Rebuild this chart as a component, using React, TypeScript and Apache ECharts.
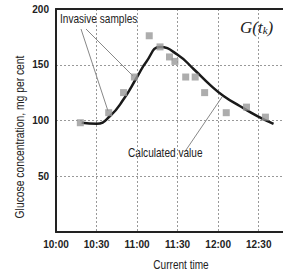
import React, { useEffect, useRef } from "react";
import * as echarts from "echarts";

// minutes after 10:00
const sampleTimes = [18, 39, 50, 58, 69, 77, 84, 88, 96, 103, 110, 126, 141, 155];
const sampleValues = [98, 107, 125, 139, 176, 166, 157, 153, 139, 139, 125, 107, 112, 103];

const curveTimes = [19, 30, 40, 50, 60, 67, 77, 90, 102, 114, 124, 136, 149, 161];
const curveValues = [98, 97, 104, 119, 139, 153, 166, 159, 146, 132, 122, 113, 104, 97];

const yTicks = [0, 50, 100, 150, 200];
const xTickLabels = ["10:00", "10:30", "11:00", "11:30", "12:00", "12:30"];

const SANS = "'Liberation Sans', Arial, sans-serif";

export default function App() {
  const ref = useRef<HTMLDivElement>(null);
  useEffect(() => {
    if (!ref.current) return;
    const chart = echarts.init(ref.current, undefined, { renderer: "svg" });
    const samples = sampleTimes.map((t, i) => [t, sampleValues[i]]);
    const curve = curveTimes.map((t, i) => [t, curveValues[i]]);
    const txt = (text: string, x: number, y: number, extra: any = {}) => ({
      type: "text",
      x,
      y,
      scaleX: 0.84,
      ...extra,
      style: {
        text,
        font: `12px ${SANS}`,
        fill: "#222",
        verticalAlign: "middle",
        ...(extra.style || {}),
      },
    });
    chart.setOption({
      animation: false,
      backgroundColor: "#fff",
      grid: { left: 56, right: 0, top: 9, bottom: 39 },
      xAxis: [
        {
          type: "value",
          min: 0,
          max: 168,
          interval: 30,
          axisLine: { show: true, lineStyle: { color: "#222", width: 2 } },
          axisTick: { show: false },
          axisLabel: {
            margin: 7,
            color: "#222",
            fontFamily: SANS,
            fontWeight: "bold",
            fontSize: 10,
            showMaxLabel: false,
            formatter: (v: number) => xTickLabels[Math.round(v / 30)] ?? "",
          },
          splitLine: { show: true, lineStyle: { color: "#999", type: [2, 2], width: 1 } },
        },
        {
          type: "value",
          position: "top",
          min: 0,
          max: 168,
          axisLine: { show: true, lineStyle: { color: "#222", width: 2 } },
          axisTick: { show: false },
          axisLabel: { show: false },
          splitLine: { show: false },
        },
      ],
      yAxis: {
        type: "value",
        min: 0,
        max: 200,
        interval: 50,
        axisLine: { show: true, lineStyle: { color: "#222", width: 2 } },
        axisTick: { show: false },
        axisLabel: {
          margin: 7,
          color: "#222",
          fontFamily: SANS,
          fontWeight: "bold",
          fontSize: 10,
          formatter: (v: number) => (v === 0 || !yTicks.includes(v) ? "" : String(v)),
        },
        splitLine: { show: true, lineStyle: { color: "#999", type: [2, 2], width: 1 } },
      },
      series: [
        {
          type: "line",
          data: curve,
          smooth: 0.5,
          symbol: "none",
          lineStyle: { color: "#1a1a1a", width: 2.5 },
          z: 3,
        },
        {
          type: "scatter",
          data: samples,
          symbol: "rect",
          symbolSize: 7,
          itemStyle: { color: "#999" },
          z: 4,
        },
      ],
      graphic: [
        {
          type: "line",
          shape: { x1: 81, y1: 29, x2: 108, y2: 111 },
          style: { stroke: "#888", lineWidth: 1 },
        },
        {
          type: "line",
          shape: { x1: 86, y1: 29, x2: 133, y2: 76 },
          style: { stroke: "#888", lineWidth: 1 },
        },
        {
          type: "line",
          shape: { x1: 186, y1: 150, x2: 222, y2: 97 },
          style: { stroke: "#888", lineWidth: 1 },
        },
        txt("Invasive samples", 60, 19),
        txt("Calculated value", 128, 153),
        {
          type: "text",
          x: 240,
          y: 27,
          style: {
            text: "{a|G(t}{b|k}{a|)}",
            verticalAlign: "middle",
            rich: {
              a: { fontFamily: "'Liberation Serif', serif", fontStyle: "italic", fontSize: 17, fill: "#222" },
              b: { fontFamily: "'Liberation Serif', serif", fontStyle: "italic", fontSize: 11, fill: "#222", verticalAlign: "bottom", padding: [6, 0, 0, 0] },
            },
          },
        },
        {
          type: "text",
          x: 20,
          y: 137,
          rotation: Math.PI / 2,
          scaleX: 0.86,
          style: {
            text: "Glucose concentration, mg per cent",
            font: `12px ${SANS}`,
            fill: "#222",
            align: "center",
            verticalAlign: "middle",
          },
        },
        txt("Current time", 181, 265, { style: { align: "center" } }),
      ],
    });
    return () => chart.dispose();
  }, []);
  return <div ref={ref} style={{ width: 283, height: 271, position: "absolute", left: 0, top: 0 }} />;
}
